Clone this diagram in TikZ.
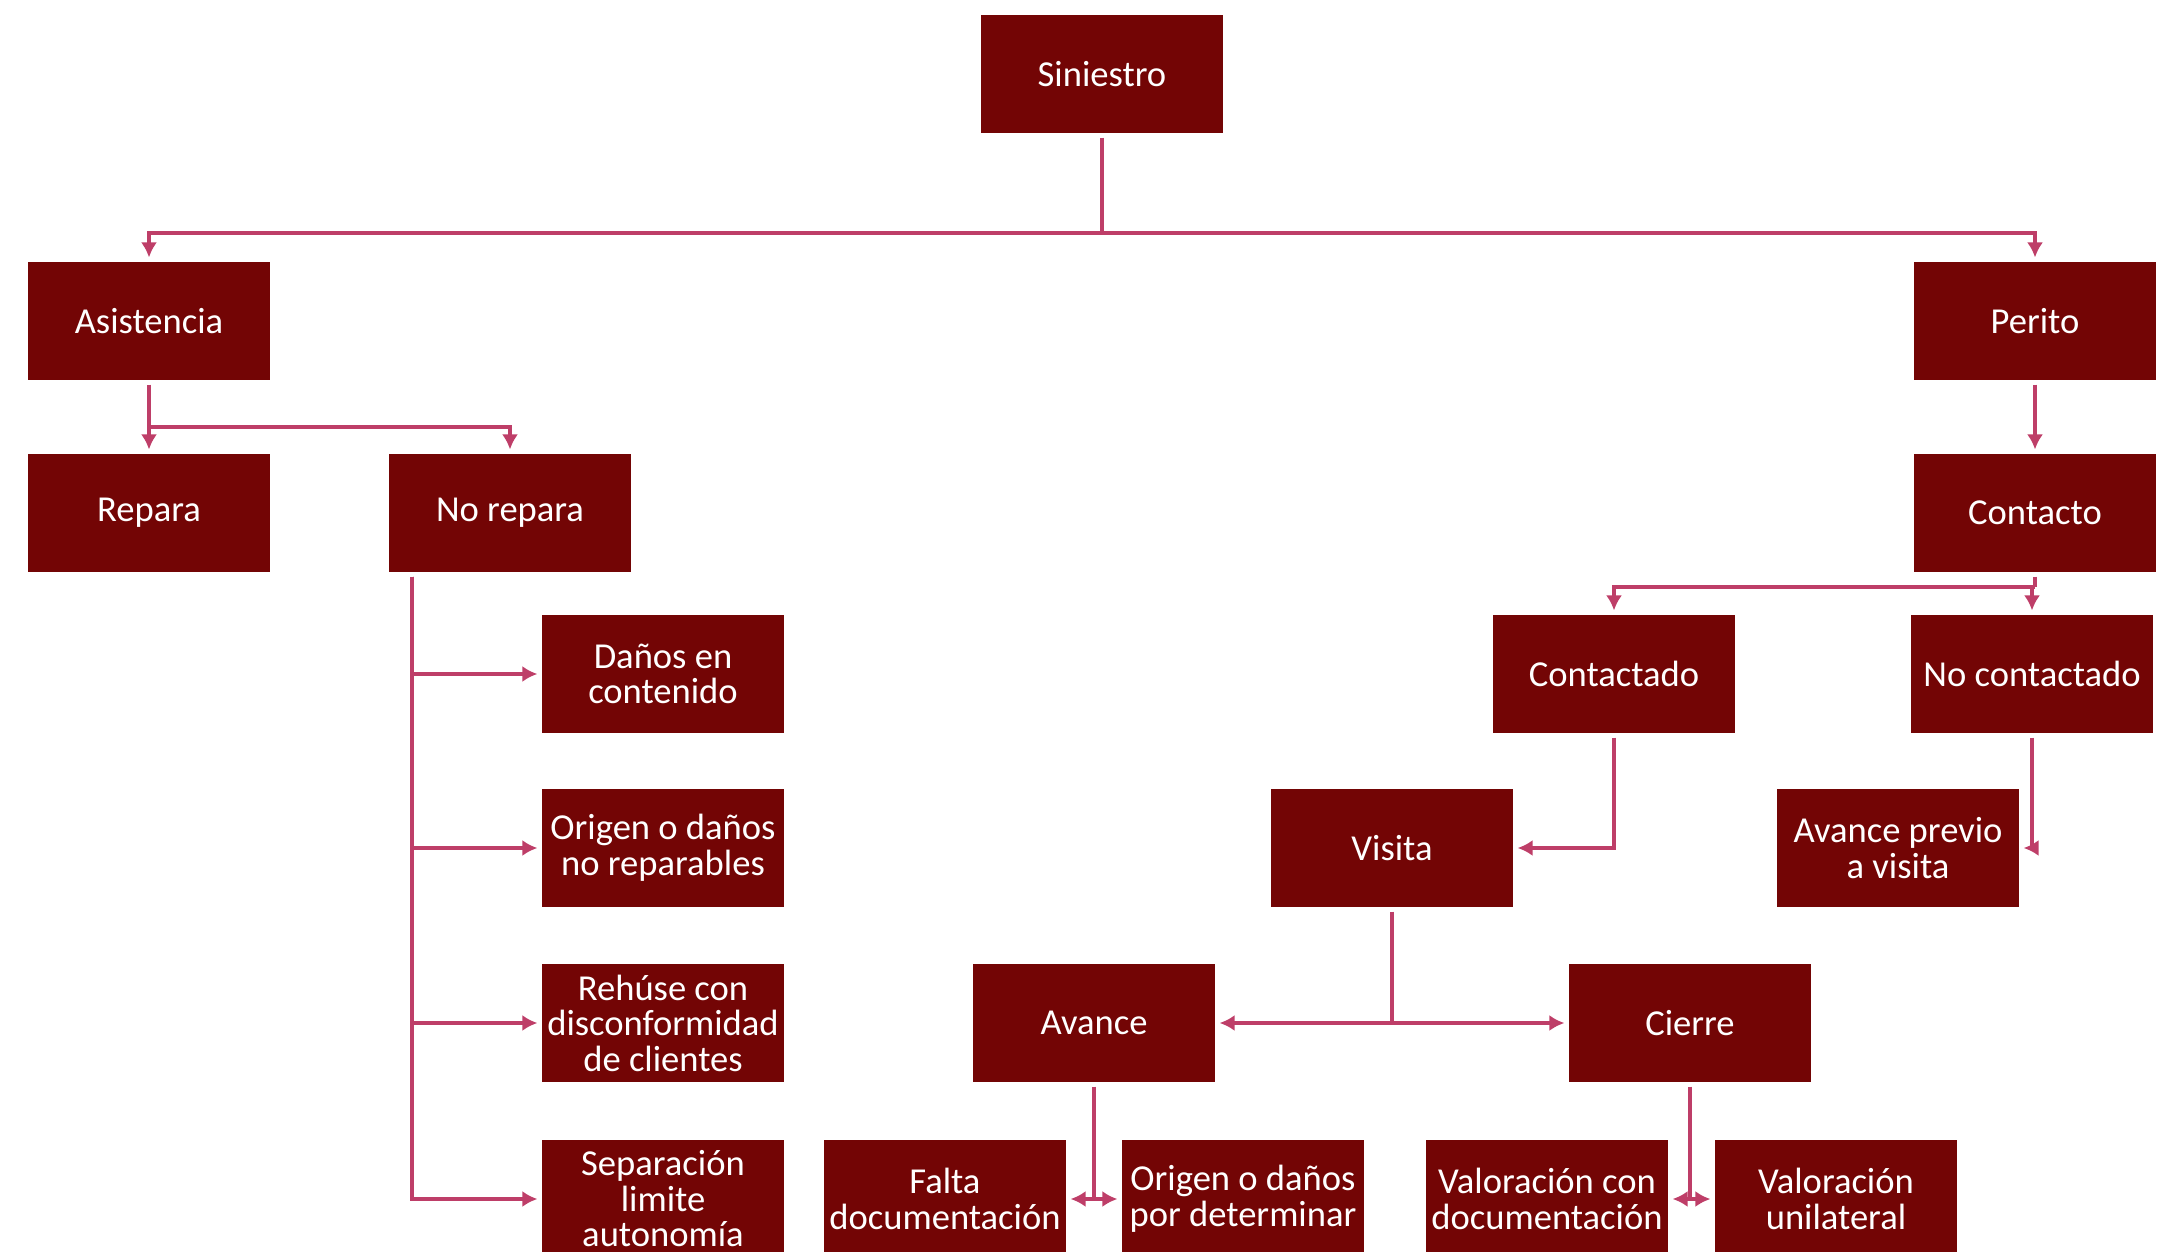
\documentclass[tikz,border=0pt]{standalone}
\usepackage{fontspec}
\setmainfont{Carlito}
\usetikzlibrary{arrows.meta}
\definecolor{boxred}{RGB}{115,5,5}
\definecolor{linkpink}{RGB}{190,62,104}

\tikzset{
  basic/.style = {rectangle, fill=boxred, text=white, font=\fontsize{10.4}{10.1}\selectfont, align=center, minimum width=2.42cm, minimum height=1.18cm, inner sep=1pt, outer sep=0.045cm},
  link/.style  = {draw=linkpink, line width=1.1pt}
}

\begin{document}
\begin{tikzpicture}[x=0.01cm, y=-0.01cm, >={Latex[length=0.15cm,width=0.16cm]}]
\useasboundingbox (0,0) rectangle (2172,1252);

% top of the tree
\node[basic] (sin) at (1102,74) {Siniestro};
\node[basic] (asis) at (149,321) {Asistencia};
\node[basic] (perito) at (2035,321) {Perito};

% second level
\node[basic] (repara) at (149,513) {Repara};
\node[basic] (norepara) at (510,513) {No repara};
\node[basic] (contacto) at (2035,513) {Contacto};

% reasons under "No repara"
\node[basic] (nr1) at (663,674) {Daños en\\contenido};
\node[basic] (nr2) at (663,848) {Origen o daños\\no reparables};
\node[basic] (nr3) at (663,1023) {Rehúse con\\disconformidad\\de clientes};
\node[basic] (nr4) at (663,1199) {Separación\\limite\\autonomía};

% branch of the perito
\node[basic] (contactado) at (1614,674) {Contactado};
\node[basic] (nocont) at (2032,674) {No contactado};
\node[basic] (visita) at (1392,848) {Visita};
\node[basic] (previo) at (1898,848) {Avance previo\\a visita};
\node[basic] (avance) at (1094,1023) {Avance};
\node[basic] (cierre) at (1690,1023) {Cierre};

% last level
\node[basic] (falta) at (945,1199) {Falta\\documentación};
\node[basic] (origdet) at (1243,1199) {Origen o daños\\por determinar};
\node[basic] (valcon) at (1547,1199) {Valoración con\\documentación};
\node[basic] (valuni) at (1836,1199) {Valoración\\unilateral};

% lines from the root
\coordinate (j1) at (sin.south |- 0,233);
\draw[link] (sin.south) -- (j1);
\draw[link,->] (j1) -| (asis.north);
\draw[link,->] (j1) -| (perito.north);

% lines from Asistencia
\coordinate (j2) at (asis.south |- 0,427);
\draw[link] (asis.south) -- (j2);
\draw[link,->] (j2) -- (repara.north);
\draw[link,->] (j2) -| (norepara.north);

\foreach \value in {1,...,4}
  \draw[link,->] (norepara.213) |- (nr\value.west);

% lines from Perito
\draw[link,->] (perito.south) -- (contacto.north);
\coordinate (j3) at (contacto.south |- 0,587);
\draw[link] (contacto.south) -- (j3);
\draw[link,->] (j3) -| (contactado.north);
\draw[link,->] (j3) -| (nocont.north);

\draw[link,->] (contactado.south) |- (visita.east);
\draw[link,->] (nocont.south) |- (previo.east);

% lines from Visita
\coordinate (j4) at (visita.south |- avance);
\draw[link] (visita.south) -- (j4);
\draw[link,->] (j4) -- (avance.east);
\draw[link,->] (j4) -- (cierre.west);

% lines to the last level
\draw[link] (avance.south) -- (avance.south |- falta);
\draw[link,<->] (falta.east) -- (origdet.west);
\draw[link] (cierre.south) -- (cierre.south |- valcon);
\draw[link,<->] (valcon.east) -- (valuni.west);
\end{tikzpicture}
\end{document}
